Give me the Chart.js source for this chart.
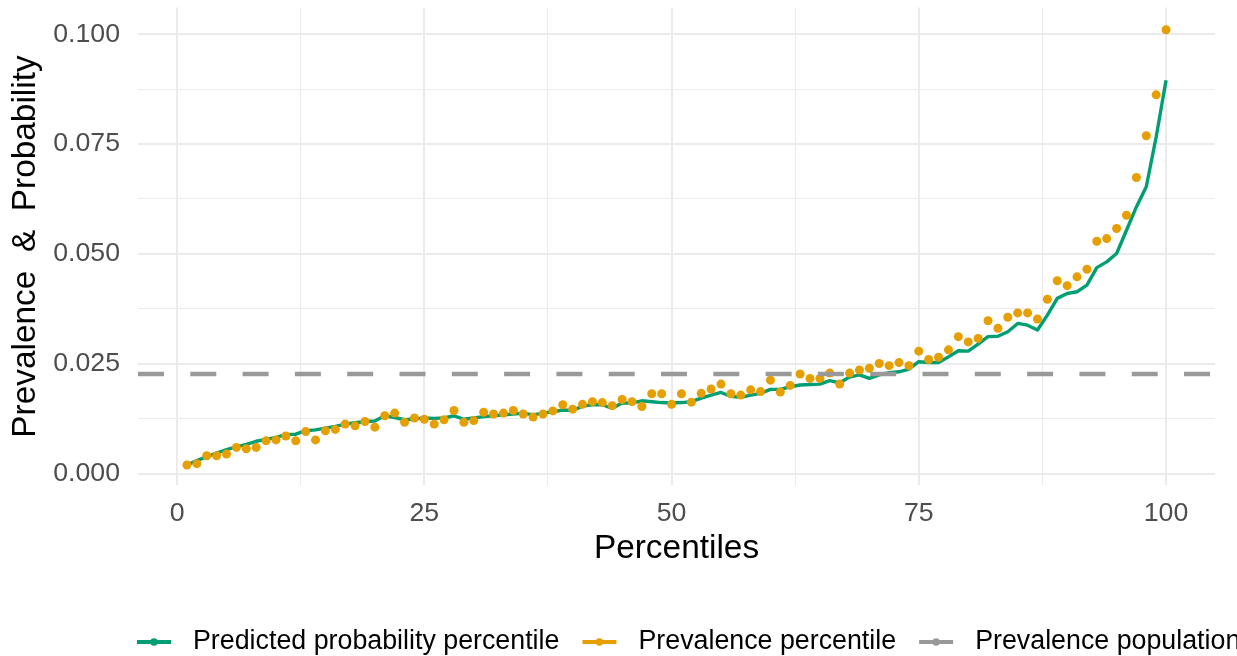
<!DOCTYPE html>
<html>
<head>
<meta charset="utf-8">
<title>Prevalence and predicted probability by percentile</title>
<script src="https://cdn.jsdelivr.net/npm/chart.js@4.4.1/dist/chart.umd.min.js"></script>
<style>
  html, body { margin: 0; padding: 0; background: #ffffff; overflow: hidden; }
  #wrap { position: relative; width: 1237px; height: 656px; }
  canvas { display: block; }
</style>
</head>
<body>
<div id="wrap"><canvas id="chart" width="1237" height="656"></canvas></div>
<script>
// Percentile groups (x)
const percentiles = [
  1, 2, 3, 4, 5, 6, 7, 8, 9, 10,
  11, 12, 13, 14, 15, 16, 17, 18, 19, 20,
  21, 22, 23, 24, 25, 26, 27, 28, 29, 30,
  31, 32, 33, 34, 35, 36, 37, 38, 39, 40,
  41, 42, 43, 44, 45, 46, 47, 48, 49, 50,
  51, 52, 53, 54, 55, 56, 57, 58, 59, 60,
  61, 62, 63, 64, 65, 66, 67, 68, 69, 70,
  71, 72, 73, 74, 75, 76, 77, 78, 79, 80,
  81, 82, 83, 84, 85, 86, 87, 88, 89, 90,
  91, 92, 93, 94, 95, 96, 97, 98, 99, 100
];

// Mean predicted probability within each percentile
const predictedProbability = [
  0.0020, 0.0030, 0.0039, 0.0047, 0.0055, 0.0061, 0.0067, 0.0074, 0.0078, 0.0083,
  0.0089, 0.0090, 0.0098, 0.0100, 0.0104, 0.0108, 0.0113, 0.0116, 0.0119, 0.0120,
  0.0132, 0.0128, 0.0123, 0.0125, 0.0127, 0.0126, 0.0127, 0.0132, 0.0124, 0.0127,
  0.0130, 0.0132, 0.0134, 0.0136, 0.0138, 0.0134, 0.0138, 0.0141, 0.0145, 0.0144,
  0.0154, 0.0157, 0.0157, 0.0149, 0.0161, 0.0161, 0.0166, 0.0164, 0.0162, 0.0161,
  0.0162, 0.0164, 0.0172, 0.0179, 0.0185, 0.0176, 0.0174, 0.0179, 0.0183, 0.0192,
  0.0192, 0.0198, 0.0202, 0.0203, 0.0204, 0.0212, 0.0207, 0.0220, 0.0225, 0.0217,
  0.0225, 0.0230, 0.0232, 0.0238, 0.0255, 0.0253, 0.0253, 0.0266, 0.0280, 0.0279,
  0.0295, 0.0312, 0.0313, 0.0323, 0.0342, 0.0338, 0.0327, 0.0361, 0.0399, 0.0410,
  0.0414, 0.0429, 0.0469, 0.0482, 0.0501, 0.0554, 0.0607, 0.0653, 0.0766, 0.0895
];

// Observed prevalence within each percentile
const prevalencePercentile = [
  0.0020, 0.0023, 0.0041, 0.0041, 0.0045, 0.0060, 0.0057, 0.0060, 0.0075, 0.0077,
  0.0086, 0.0075, 0.0096, 0.0077, 0.0098, 0.0101, 0.0113, 0.0109, 0.0119, 0.0106,
  0.0132, 0.0138, 0.0117, 0.0127, 0.0124, 0.0113, 0.0123, 0.0144, 0.0117, 0.0121,
  0.0140, 0.0136, 0.0138, 0.0144, 0.0136, 0.0129, 0.0136, 0.0143, 0.0157, 0.0147,
  0.0158, 0.0164, 0.0162, 0.0155, 0.0169, 0.0164, 0.0153, 0.0182, 0.0182, 0.0158,
  0.0182, 0.0163, 0.0183, 0.0193, 0.0204, 0.0182, 0.0179, 0.0191, 0.0187, 0.0213,
  0.0186, 0.0201, 0.0227, 0.0217, 0.0217, 0.0229, 0.0204, 0.0229, 0.0236, 0.0240,
  0.0251, 0.0246, 0.0253, 0.0246, 0.0279, 0.0260, 0.0265, 0.0282, 0.0312, 0.0300,
  0.0308, 0.0348, 0.0331, 0.0356, 0.0366, 0.0366, 0.0352, 0.0397, 0.0439, 0.0428,
  0.0448, 0.0465, 0.0529, 0.0535, 0.0558, 0.0588, 0.0674, 0.0769, 0.0862, 0.1010
];

// Overall prevalence in the population
const populationPrevalence = 0.0227;

// Axis ticks and limits
const xTicks = [0, 25, 50, 75, 100];
const yTicks = [0, 0.025, 0.05, 0.075, 0.1];
const X_MIN = -3.95, X_MAX = 104.95;
const Y_MIN = -0.00264, Y_MAX = 0.10604;

const seriesNames = ['Predicted probability percentile', 'Prevalence percentile', 'Prevalence population'];
const seriesColors = ['#009E73', '#E69F00', '#999999'];

const FONT = "'Liberation Sans', Arial, Helvetica, sans-serif";

// major ticks plus a minor line half-way between each pair
function withMinor(major) {
  const out = [];
  for (let i = 0; i < major.length; i++) {
    out.push(major[i]);
    if (i < major.length - 1) out.push((major[i] + major[i + 1]) / 2);
  }
  return out;
}
function isMajor(list, v) {
  return list.some(m => Math.abs(m - v) < 1e-9);
}

// Legend drawn along the bottom: a line key with a dot in the middle
const bottomLegend = {
  id: 'bottomLegend',
  afterDraw(chart) {
    const ctx = chart.ctx;
    const yMid = 642;
    let x = 137;
    ctx.save();
    ctx.font = '26.8px ' + FONT;
    ctx.textBaseline = 'middle';
    ctx.textAlign = 'left';
    seriesNames.forEach((name, i) => {
      ctx.strokeStyle = seriesColors[i];
      ctx.fillStyle = seriesColors[i];
      ctx.lineWidth = 4.2;
      ctx.setLineDash([]);
      ctx.beginPath();
      ctx.moveTo(x, yMid);
      ctx.lineTo(x + 34, yMid);
      ctx.stroke();
      ctx.beginPath();
      ctx.arc(x + 17, yMid, 3.8, 0, Math.PI * 2);
      ctx.fill();
      ctx.fillStyle = '#000000';
      ctx.fillText(name, x + 56, yMid);
      x += 56 + ctx.measureText(name).width + 23;
    });
    ctx.restore();
  }
};

const ctx = document.getElementById('chart').getContext('2d');
new Chart(ctx, {
  type: 'line',
  data: {
    datasets: [
      {
        label: seriesNames[2],
        data: [{ x: X_MIN, y: populationPrevalence }, { x: X_MAX, y: populationPrevalence }],
        borderColor: seriesColors[2],
        borderWidth: 4.6,
        borderDash: [26, 26.3],
        borderCapStyle: 'butt',
        pointRadius: 0,
        fill: false,
        order: 0
      },
      {
        label: seriesNames[1],
        data: percentiles.map((p, i) => ({ x: p, y: prevalencePercentile[i] })),
        showLine: false,
        pointRadius: 4.5,
        pointBorderWidth: 0,
        pointBackgroundColor: seriesColors[1],
        pointBorderColor: seriesColors[1],
        backgroundColor: seriesColors[1],
        order: 1
      },
      {
        label: seriesNames[0],
        data: percentiles.map((p, i) => ({ x: p, y: predictedProbability[i] })),
        borderColor: seriesColors[0],
        borderWidth: 3.4,
        borderJoinStyle: 'round',
        pointRadius: 0,
        tension: 0,
        fill: false,
        order: 2
      }
    ]
  },
  options: {
    responsive: false,
    animation: false,
    devicePixelRatio: 1,
    layout: { padding: { top: 7.6, right: 22, bottom: 87.6, left: 0 } },
    plugins: {
      legend: { display: false },
      tooltip: { enabled: false }
    },
    scales: {
      x: {
        type: 'linear',
        min: X_MIN,
        max: X_MAX,
        afterBuildTicks: (scale) => { scale.ticks = withMinor(xTicks).map(v => ({ value: v })); },
        afterFit: (scale) => { scale.height = 83; },
        border: { display: false },
        grid: {
          color: '#EBEBEB',
          drawTicks: false,
          lineWidth: (c) => (c.tick && isMajor(xTicks, c.tick.value)) ? 2 : 1.1
        },
        ticks: {
          autoSkip: false,
          maxRotation: 0,
          padding: 12,
          color: '#4D4D4D',
          font: { family: FONT, size: 26.7 },
          callback: (v) => isMajor(xTicks, v) ? String(v) : ''
        },
        title: {
          display: true,
          text: 'Percentiles',
          color: '#000000',
          font: { family: FONT, size: 33.4 },
          padding: { top: 0, bottom: 0 }
        }
      },
      y: {
        type: 'linear',
        min: Y_MIN,
        max: Y_MAX,
        afterBuildTicks: (scale) => { scale.ticks = withMinor(yTicks).map(v => ({ value: v })); },
        afterFit: (scale) => { scale.width = 138; scale.paddingTop = 0; scale.paddingBottom = 0; },
        border: { display: false },
        grid: {
          color: '#EBEBEB',
          drawTicks: false,
          lineWidth: (c) => (c.tick && isMajor(yTicks, c.tick.value)) ? 2 : 1.1
        },
        ticks: {
          autoSkip: false,
          padding: 18,
          color: '#4D4D4D',
          font: { family: FONT, size: 26.7 },
          callback: (v) => isMajor(yTicks, v) ? v.toFixed(3) : ''
        },
        title: {
          display: true,
          text: 'Prevalence  &  Probability',
          color: '#000000',
          font: { family: FONT, size: 33.4 },
          padding: { top: 6, bottom: 0 }
        }
      }
    }
  },
  plugins: [bottomLegend]
});
</script>
</body>
</html>
